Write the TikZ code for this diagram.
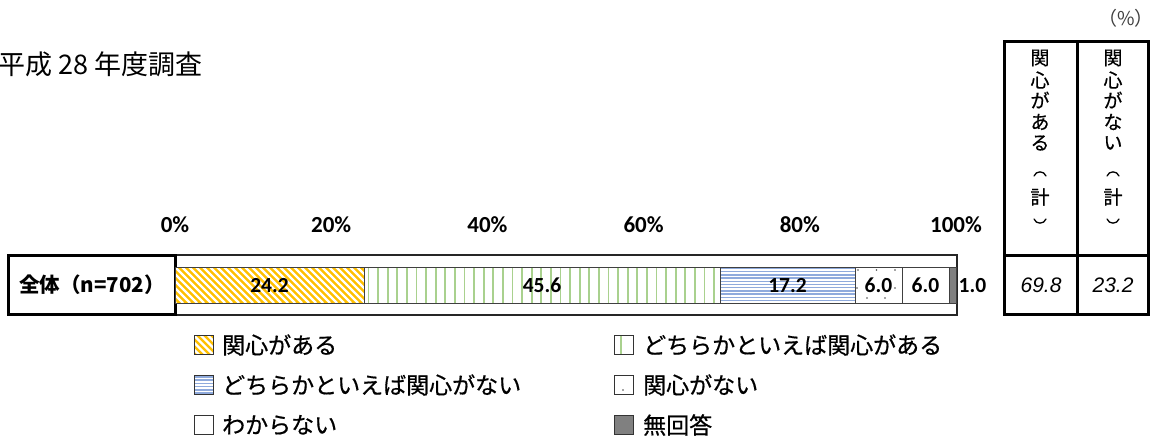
\documentclass[tikz,border=0pt]{standalone}
\usepackage{fontspec}
\setmainfont{Noto Sans CJK JP}
\newfontfamily\jpfont{Noto Sans CJK JP}
\newfontfamily\jpmed[FakeBold=0.6]{Noto Sans CJK JP}
\newfontfamily\calfont{Carlito}
\newfontfamily\arialfont{Liberation Sans}
\definecolor{yel}{HTML}{FFC000}
\definecolor{grn}{HTML}{A9D18E}
\definecolor{blu}{HTML}{8FAADC}
\definecolor{gry}{HTML}{808080}
\tikzset{
  seg/.style={draw=black!75, line width=0.9pt},
  axislbl/.style={font=\calfont\bfseries\fontsize{23}{25}\selectfont, inner sep=0pt},
  vallbl/.style={font=\calfont\bfseries\fontsize{21.5}{23}\selectfont, inner sep=0pt},
  totlbl/.style={font=\arialfont\itshape\fontsize{21}{23}\selectfont, inner sep=0pt},
  hdr/.style={font=\jpmed\fontsize{19}{21}\selectfont, inner sep=0pt},
  paren/.style={line width=1.3pt, line cap=round},
  leg/.style={font=\jpmed\fontsize{23}{26}\selectfont, inner sep=0pt, anchor=west},
  legbox/.style={draw=black!80, line width=0.9pt},
  thick3/.style={line width=3pt}
}
\begin{document}
\begin{tikzpicture}[x=1pt,y=-1pt]
\useasboundingbox (0,0) rectangle (1157,441);
\fill[white] (0,0) rectangle (1157,441);

% title and unit
\node[font=\jpfont\fontsize{27}{30}\selectfont, anchor=west, inner sep=0pt] (title) at (-2,64) {平成 28 年度調査};
\node[font=\jpfont\fontsize{19}{21}\selectfont, text=black!75, inner sep=0pt] (unit) at (1126,18) {（\%）};

% axis labels
\node[axislbl] (ax0) at (175,224.5) {0\%};
\node[axislbl] (ax20) at (331.2,224.5) {20\%};
\node[axislbl] (ax40) at (487.4,224.5) {40\%};
\node[axislbl] (ax60) at (643.6,224.5) {60\%};
\node[axislbl] (ax80) at (799.8,224.5) {80\%};
\node[axislbl] (ax100) at (956,224.5) {100\%};

% row frame
\draw[line width=1.2pt, black!85] (175,255) -- (957,255) -- (957,315) -- (175,315);
\draw[thick3] (8.5,255) rectangle (175.5,314.5);
\node[font=\jpfont\bfseries\fontsize{20.5}{22}\selectfont, inner sep=0pt] (rowlbl) at (92,285) {全体（n=702）};

% segment 1: yellow with white diagonal stripes
\fill[yel] (175,267) rectangle (364,303);
\begin{scope}
\clip (175,267) rectangle (364,303);
\foreach \x in {133,140,...,370} \draw[white, line width=2.4pt] (\x,267) -- (\x+36,303);
\end{scope}
\draw[seg] (175,267) rectangle (364,303);

% segment 2: green vertical lines
\begin{scope}
\clip (364,267) rectangle (720,303);
\foreach \x in {368.5,378.1,...,720} \draw[grn, line width=1.8pt] (\x,267) -- (\x,303);
\end{scope}
\draw[seg] (364,267) rectangle (720,303);

% segment 3: blue horizontal lines
\begin{scope}
\clip (720,267) rectangle (855,303);
\foreach \y in {268.5,271.7,...,303} \draw[blu, line width=1.5pt] (720,\y) -- (855,\y);
\end{scope}
\draw[seg] (720,267) rectangle (855,303);

% segment 4: sparse dots
\foreach \p in {(858,270),(876.5,270),(895,270),(857,288),(895,288),(867,298),(885,298)}
  \fill[black!70] \p circle (0.9pt);
\draw[seg] (855,267) rectangle (902,303);

% segment 5: white
\draw[seg] (902,267) rectangle (949,303);

% segment 6: gray
\fill[gry] (949,267) rectangle (956,303);
\draw[seg] (949,267) rectangle (956,303);

% value labels
\node[vallbl] (v1) at (269.5,285.5) {24.2};
\node[vallbl] (v2) at (542,285.5) {45.6};
\node[vallbl] (v3) at (787.5,285.5) {17.2};
\node[vallbl] (v4) at (878.5,285.5) {6.0};
\node[vallbl] (v5) at (925.5,285.5) {6.0};
\node[vallbl, anchor=west] (v6) at (958.5,285.5) {1.0};

% right table
\draw[thick3] (1004,42) rectangle (1148,314);
\draw[thick3] (1077,42) -- (1077,314);
\draw[thick3] (1004,255) -- (1148,255);
\foreach \c/\y [count=\i] in {関/58,心/80,が/100,あ/122,る/143,計/197}
  \node[hdr] (ha\i) at (1040,\y) {\c};
\foreach \c/\y [count=\i] in {関/58,心/80,が/100,な/122,い/143,計/197}
  \node[hdr] (hb\i) at (1113,\y) {\c};
\foreach \cx in {1040,1113} {
  \draw[paren] (\cx-6,176) .. controls (\cx-4,170.5) and (\cx+4,170.5) .. (\cx+6,176);
  \draw[paren] (\cx-6,219) .. controls (\cx-4,224.5) and (\cx+4,224.5) .. (\cx+6,219);
}
\node[totlbl] (t1) at (1041,285.5) {69.8};
\node[totlbl] (t2) at (1113,285.5) {23.2};

% legend
\fill[yel] (194,335.5) rectangle (213,354.5);
\begin{scope}
\clip (194,335.5) rectangle (213,354.5);
\foreach \x in {173,180,...,215} \draw[white, line width=2.4pt] (\x,335.5) -- (\x+19,354.5);
\end{scope}
\draw[legbox] (194,335.5) rectangle (213,354.5);
\node[leg] (l1) at (222,345) {関心がある};
\draw[grn, line width=1.8pt] (621,335.5) -- (621,354.5);
\draw[legbox] (614,335.5) rectangle (633,354.5);
\node[leg] (l2) at (643,345) {どちらかといえば関心がある};
\begin{scope}
\clip (194,375.5) rectangle (213,394.5);
\foreach \y in {377,380.2,...,395} \draw[blu, line width=1.5pt] (194,\y) -- (213,\y);
\end{scope}
\draw[legbox] (194,375.5) rectangle (213,394.5);
\node[leg] (l3) at (222,385) {どちらかといえば関心がない};
\fill[black!70] (623,390) circle (0.9pt);
\draw[legbox] (614,375.5) rectangle (633,394.5);
\node[leg] (l4) at (643,385) {関心がない};
\draw[legbox] (194,415.5) rectangle (213,434.5);
\node[leg] (l5) at (222,425) {わからない};
\fill[gry] (614,415.5) rectangle (633,434.5);
\draw[legbox] (614,415.5) rectangle (633,434.5);
\node[leg] (l6) at (643,425) {無回答};
\end{tikzpicture}
\end{document}
